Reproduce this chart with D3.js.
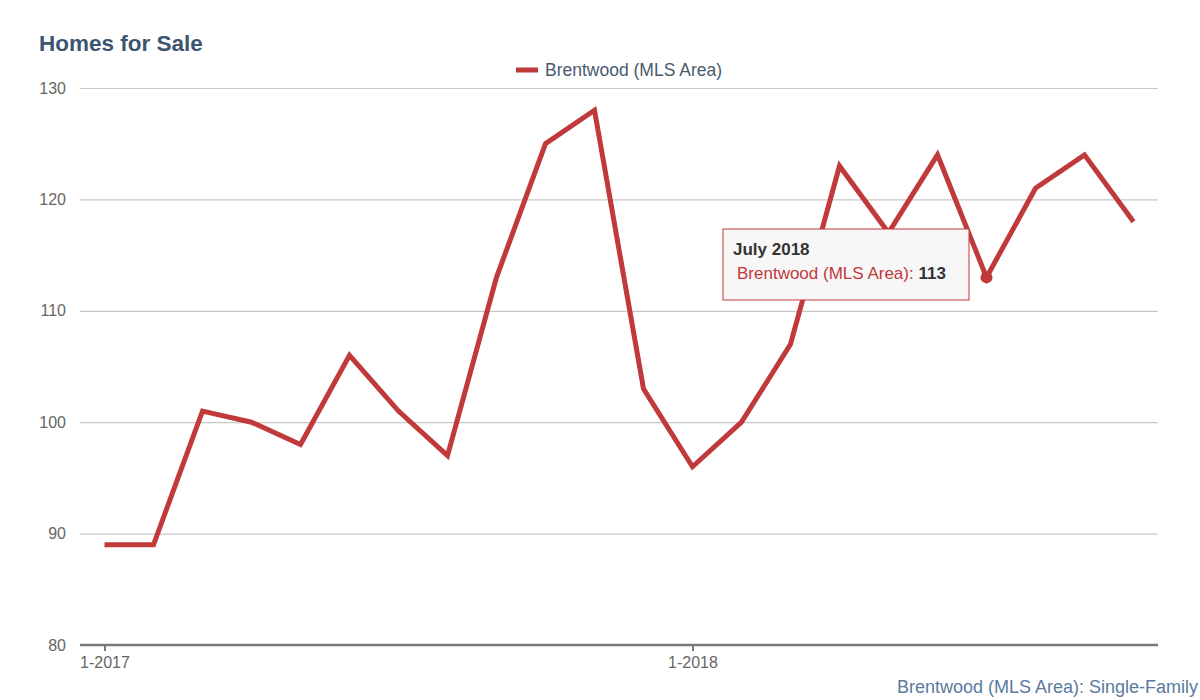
<!DOCTYPE html>
<html><head><meta charset="utf-8">
<script src="https://cdn.jsdelivr.net/npm/d3@7"></script>
<style>body{margin:0;background:#fff;font-family:"Liberation Sans",Arial,sans-serif;}</style>
</head><body><svg id="c" width="1200" height="700"></svg>
<script>
const months = ["1-2017","2-2017","3-2017","4-2017","5-2017","6-2017","7-2017","8-2017","9-2017","10-2017","11-2017","12-2017",
"1-2018","2-2018","3-2018","4-2018","5-2018","6-2018","7-2018","8-2018","9-2018","10-2018"];
const values = [89,89,101,100,98,106,101,97,113,125,128,103,96,100,107,123,117,124,113,121,124,118];
const yTicks = [80,90,100,110,120,130];
const xTickLabels = ["1-2017","1-2018"];
const seriesName = "Brentwood (MLS Area)";
const title = "Homes for Sale";
const footer = "Brentwood (MLS Area): Single-Family";
const tooltipTitle = "July 2018";
const tooltipIndex = 18;

const svg = d3.select("#c");
const color = "#c0393b";
const pLeft = 80, pRight = 1158, pTop = 88, pBottom = 645;
const x = d3.scalePoint().domain(months).range([pLeft, pRight]).padding(0.5);
const y = d3.scaleLinear().domain([80,130]).range([pBottom, pTop]);

svg.append("text").attr("x",39).attr("y",51).attr("fill","#3d5570")
  .attr("font-size",22.5).attr("font-weight","bold").text(title);

// grid
const yAxis = d3.axisLeft(y).tickValues(yTicks).tickSize(-(pRight-pLeft)).tickPadding(14);
const gy = svg.append("g").attr("transform",`translate(${pLeft},0)`).call(yAxis);
gy.select(".domain").remove();
gy.selectAll(".tick line").attr("stroke","#c8c8c8").attr("stroke-width",1.2);
gy.selectAll(".tick text").attr("fill","#666").attr("font-size",16).attr("font-family","Liberation Sans, Arial, sans-serif");
gy.selectAll(".tick").filter(d=>d===80).select("line").remove();

// x axis
const xAxis = d3.axisBottom(x).tickValues(xTickLabels).tickSize(6).tickSizeOuter(0).tickPadding(6);
const gx = svg.append("g").attr("transform",`translate(0,${pBottom})`).call(xAxis);
gx.select(".domain").attr("stroke","#777").attr("stroke-width",2.5).attr("d",`M${pLeft},0H${pRight}`);
gx.selectAll(".tick line").attr("stroke","#777").attr("stroke-width",2);
gx.selectAll(".tick text").attr("fill","#666").attr("font-size",16).attr("font-family","Liberation Sans, Arial, sans-serif");

// line
const line = d3.line().x((d,i)=>x(months[i])).y(d=>y(d));
svg.append("path").datum(values).attr("d",line).attr("fill","none")
  .attr("stroke",color).attr("stroke-width",5).attr("stroke-linejoin","miter").attr("stroke-linecap","butt");

// legend
const lg = svg.append("g").attr("transform","translate(516,70)");
lg.append("line").attr("x1",0).attr("x2",22).attr("y1",0).attr("y2",0).attr("stroke",color).attr("stroke-width",5);
lg.append("text").attr("x",29).attr("y",6).attr("fill","#4a5a6e").attr("font-size",17.5).text(seriesName);

// highlighted point
svg.append("circle").attr("cx",x(months[tooltipIndex])).attr("cy",y(values[tooltipIndex])).attr("r",6).attr("fill",color);

// tooltip
const tt = svg.append("g").attr("transform","translate(723,229)");
tt.append("rect").attr("width",246).attr("height",71).attr("fill","#f7f7f7")
  .attr("stroke",color).attr("stroke-width",1);
tt.append("text").attr("x",10).attr("y",26).attr("fill","#333").attr("font-size",17).attr("font-weight","bold").text(tooltipTitle);
const t2 = tt.append("text").attr("x",14).attr("y",50).attr("font-size",17);
t2.append("tspan").attr("fill",color).text(seriesName + ": ");
t2.append("tspan").attr("fill","#333").attr("font-weight","bold").text(values[tooltipIndex]);

svg.append("text").attr("x",1198).attr("y",693).attr("text-anchor","end").attr("fill","#5a7aa0")
  .attr("font-size",18).text(footer);
</script></body></html>
